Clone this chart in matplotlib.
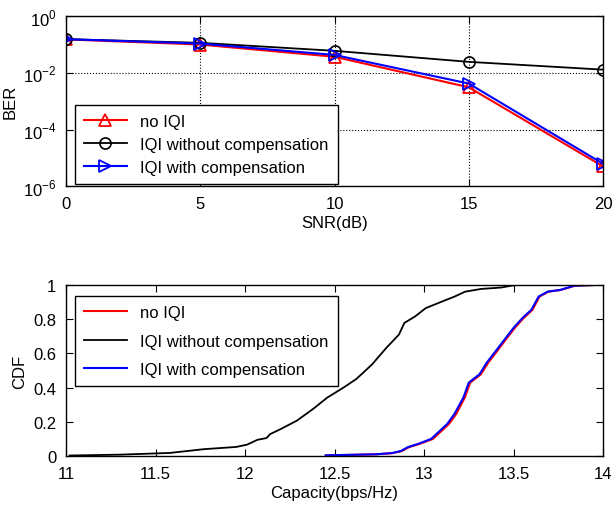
import math
import matplotlib
matplotlib.use("Agg")
import matplotlib.pyplot as plt
from matplotlib.ticker import FixedLocator, NullLocator, FuncFormatter

plt.rcParams['font.family'] = ['Liberation Sans', 'DejaVu Sans']
plt.rcParams['mathtext.fontset'] = 'custom'
plt.rcParams['mathtext.rm'] = 'Liberation Sans'

# BER vs SNR
snr = [0, 5, 10, 15, 20]
ber_no_iqi = [0.152, 0.100, 0.037, 0.0031, 5.0e-6]
ber_iqi_nocomp = [0.155, 0.115, 0.060, 0.0245, 0.013]
ber_iqi_comp = [0.155, 0.108, 0.043, 0.0042, 6.2e-6]

# CDF of capacity
cap_nocomp = [11.02, 11.3, 11.58, 11.77, 11.95, 12.01, 12.07, 12.12, 12.14, 12.2, 12.29,
              12.38, 12.46, 12.55, 12.62, 12.66, 12.71, 12.79, 12.86, 12.89, 12.95,
              13.01, 13.10, 13.17, 13.23, 13.32, 13.43, 13.51]
cdf_nocomp = [0.003, 0.008, 0.018, 0.04, 0.053, 0.066, 0.095, 0.105, 0.128, 0.158, 0.207,
              0.275, 0.342, 0.40, 0.449, 0.487, 0.536, 0.633, 0.71, 0.778, 0.816,
              0.865, 0.903, 0.932, 0.961, 0.977, 0.985, 1.0]
cap_comp = [12.45, 12.73, 12.82, 12.87, 12.91, 12.97, 13.04, 13.08, 13.13, 13.17,
            13.22, 13.25, 13.31, 13.35, 13.40, 13.45, 13.50, 13.55, 13.60, 13.64,
            13.69, 13.76, 13.84, 13.95]
cdf_comp = [0.004, 0.01, 0.017, 0.029, 0.052, 0.072, 0.10, 0.139, 0.188, 0.246,
            0.342, 0.429, 0.478, 0.545, 0.613, 0.681, 0.749, 0.807, 0.855, 0.932,
            0.961, 0.971, 0.996, 1.0]
cap_no_iqi = [12.455, 12.735, 12.825, 12.876, 12.917, 12.978, 13.05, 13.09, 13.14, 13.18,
              13.228, 13.258, 13.318, 13.358, 13.408, 13.457, 13.507, 13.557, 13.606, 13.645,
              13.695, 13.764, 13.845, 13.96]
cdf_no_iqi = cdf_comp

labels = ['no IQI', 'IQI without compensation', 'IQI with compensation']

fig = plt.figure(figsize=(6.13, 5.06), dpi=100)
ax1 = fig.add_axes([0.1077, 0.630, 0.876, 0.336])
ax2 = fig.add_axes([0.1077, 0.0968, 0.876, 0.338])

ax1.semilogy(snr, ber_no_iqi, color='red', marker='^', mfc='none', ms=9, mew=1.3, lw=1.5, label=labels[0])
ax1.semilogy(snr, ber_iqi_nocomp, color='black', marker='o', mfc='none', ms=8, mew=1.2, lw=1.3, label=labels[1])
ax1.semilogy(snr, ber_iqi_comp, color='blue', marker='>', mfc='none', ms=9, mew=1.3, lw=1.5, label=labels[2])
ax1.set_xlim(0, 20)
ax1.set_ylim(1e-6, 1)
ax1.set_xticks([0, 5, 10, 15, 20])
ax1.yaxis.set_major_locator(FixedLocator([1e-6, 1e-4, 1e-2, 1]))
ax1.yaxis.set_minor_locator(NullLocator())
ax1.yaxis.set_major_formatter(FuncFormatter(lambda v, p: r'$10^{%d}$' % round(math.log10(v))))
ax1.grid(True, linestyle=':', color='black', lw=0.8)
ax1.set_xlabel('SNR(dB)', fontsize=12, labelpad=3)
ax1.set_ylabel('BER', fontsize=12)
ax1.legend(loc='upper left', bbox_to_anchor=(0.016, 0.478), fontsize=12, frameon=True,
           fancybox=False, edgecolor='black', framealpha=1, handlelength=2.6,
           borderaxespad=0, labelspacing=0.47, borderpad=0.55)

ax2.plot(cap_no_iqi, cdf_no_iqi, color='red', lw=1.5, label=labels[0])
ax2.plot(cap_nocomp, cdf_nocomp, color='black', lw=1.3, label=labels[1])
ax2.plot(cap_comp, cdf_comp, color='blue', lw=1.5, label=labels[2])
ax2.set_xlim(11, 14)
ax2.set_ylim(0, 1)
ax2.set_xticks([11, 11.5, 12, 12.5, 13, 13.5, 14])
ax2.set_xticklabels(['11', '11.5', '12', '12.5', '13', '13.5', '14'])
ax2.set_yticks([0, 0.2, 0.4, 0.6, 0.8, 1])
ax2.set_yticklabels(['0', '0.2', '0.4', '0.6', '0.8', '1'])
ax2.set_xlabel('Capacity(bps/Hz)', fontsize=12, labelpad=3)
ax2.set_ylabel('CDF', fontsize=12)
ax2.legend(loc='upper left', bbox_to_anchor=(0.016, 0.935), fontsize=12, frameon=True,
           fancybox=False, edgecolor='black', framealpha=1, handlelength=2.6,
           borderaxespad=0, labelspacing=0.8, borderpad=0.55)

for ax in (ax1, ax2):
    ax.tick_params(direction='in', top=True, right=True, labelsize=12, length=5, pad=7)
    for s in ax.spines.values():
        s.set_linewidth(1.0)

fig.savefig('out.png', dpi=100)
